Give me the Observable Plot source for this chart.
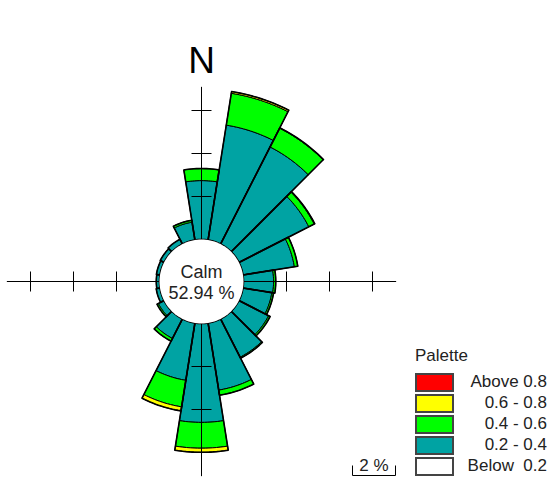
<!DOCTYPE html>
<html><head><meta charset="utf-8">
<script src="https://cdn.jsdelivr.net/npm/d3@7"></script>
<script src="https://cdn.jsdelivr.net/npm/@observablehq/plot@0.6"></script>
<style>
body{margin:0;background:#fff;font-family:"Liberation Sans",Arial,sans-serif;}
#wrap{position:relative;width:550px;height:483px;overflow:hidden;}
#legend{position:absolute;left:415px;top:346px;width:134px;font-size:17px;color:#222;}
#legend .title{height:27px;line-height:20px;}
#legend .row{position:relative;height:21px;}
#legend .sw{position:absolute;left:0;top:0;width:35px;height:15px;border:2px solid #444;}
#legend .lab{position:absolute;right:2px;top:-1px;line-height:20px;white-space:pre;}
</style></head><body><div id="wrap"><div id="chart"></div><div id="legend"></div></div>
<script>
// ---- data (percent of observations per direction sector and wind-speed class) ----
const directions = [0, 18, 36, 54, 72, 90, 108, 126, 144, 162, 180, 198, 216, 234, 252, 270, 288, 306, 324, 342];
const band02to04 = [2.74, 5.41, 5.07, 3.65, 2.42, 1.40, 1.36, 1.55, 2.00, 3.16, 4.60, 2.70, 1.02, 0.30, 0.18, 0.15, 0.17, 0.20, 0.25, 0.84];
const band04to06 = [0.56, 1.50, 0.98, 0.28, 0.16, 0.10, 0.08, 0.08, 0.05, 0.24, 1.20, 1.25, 0.14, 0.07, 0, 0, 0, 0, 0, 0.09];
const band06to08 = [0, 0.08, 0.02, 0.03, 0, 0, 0, 0, 0, 0, 0.19, 0.19, 0, 0, 0, 0, 0, 0, 0, 0];
const bandAbove08 = [0, 0, 0, 0, 0, 0, 0, 0, 0, 0, 0, 0, 0, 0, 0, 0, 0, 0, 0, 0];
const legendLabels = ["Above 0.8", "0.6 - 0.8", "0.4 - 0.6", "0.2 - 0.4", "Below  0.2"];
const legendColors = ["#ff0000", "#ffff00", "#00ff00", "#00a3a3", "#ffffff"];
const calmLabel = "Calm";
const calmPct = 52.94;
const axisTicks = [2, 4, 6];
const scaleBarPct = 2;
const northLabel = "N";
const legendTitle = "Palette";

// ---- layout ----
const W = 550, H = 483;
const cx = 201, cy = 281;       // centre of rose in px
const k = 21.5;                 // px per percent
const R0 = 42 / k;              // calm circle radius (in percent units)
const axisExtent = R0 + 7.1;
const tickHalf = 10 / k;

const bands = [band02to04, band04to06, band06to08, bandAbove08];
const bandColors = ["#00a3a3", "#00ff00", "#ffff00", "#ff0000"];

const polar = (deg, r) => {
  const a = deg * Math.PI / 180;
  return [r * Math.sin(a), r * Math.cos(a)];
};

const sectorWidth = 360 / directions.length;
const polys = [];
const outlines = [];
const N = 14;
directions.forEach((d, i) => {
  let start = 0;
  const a0 = d - sectorWidth / 2, a1 = d + sectorWidth / 2;
  bands.forEach((vals, b) => {
    const v = vals[i];
    if (!(v > 0)) return;
    const end = start + v;
    const pts = [];
    for (let j = 0; j <= N; j++) pts.push(polar(a0 + (a1 - a0) * j / N, R0 + start));
    for (let j = N; j >= 0; j--) pts.push(polar(a0 + (a1 - a0) * j / N, R0 + end));
    pts.push(pts[0]);
    pts.forEach(p => polys.push({id: i + "-" + b, band: b, x: p[0], y: p[1]}));
    start = end;
  });
  const total = start;
  const pts = [];
  for (let j = 0; j <= N; j++) pts.push(polar(a0 + (a1 - a0) * j / N, R0));
  for (let j = N; j >= 0; j--) pts.push(polar(a0 + (a1 - a0) * j / N, R0 + total));
  pts.push(pts[0]);
  pts.forEach(p => outlines.push({id: i, x: p[0], y: p[1]}));
});

const circle = d3.range(0, 361, 3).map(a => { const p = polar(a, R0); return {x: p[0], y: p[1]}; });

const axisLines = [
  {x1: -axisExtent, y1: 0, x2: axisExtent, y2: 0},
  {x1: 0, y1: -axisExtent, x2: 0, y2: axisExtent}
];
const tickLinks = [];
axisTicks.forEach(t => {
  const r = R0 + t;
  tickLinks.push({x1: r, y1: -tickHalf, x2: r, y2: tickHalf});
  tickLinks.push({x1: -r, y1: -tickHalf, x2: -r, y2: tickHalf});
  tickLinks.push({x1: -tickHalf, y1: r, x2: tickHalf, y2: r});
  tickLinks.push({x1: -tickHalf, y1: -r, x2: tickHalf, y2: -r});
});

// scale bar position (px -> data units)
const sbx = (352 - cx) / k, sby = (cy - 475) / k;
const scaleBar = [
  {x1: sbx, y1: sby, x2: sbx + scaleBarPct, y2: sby},
  {x1: sbx, y1: sby, x2: sbx, y2: sby + 10 / k},
  {x1: sbx + scaleBarPct, y1: sby, x2: sbx + scaleBarPct, y2: sby + 10 / k}
];

const font = "Liberation Sans, Arial, sans-serif";

const marks = [];
bands.forEach((vals, b) => {
  marks.push(Plot.line(polys.filter(p => p.band === b), {
    x: "x", y: "y", z: "id", fill: bandColors[b], stroke: "#000", strokeWidth: 1, curve: "linear", strokeLinejoin: "miter"
  }));
});
marks.push(Plot.line(outlines, {x: "x", y: "y", z: "id", fill: "none", stroke: "#000", strokeWidth: 1.6, curve: "linear"}));
marks.push(Plot.link(axisLines, {x1: "x1", y1: "y1", x2: "x2", y2: "y2", stroke: "#000", strokeWidth: 1}));
marks.push(Plot.link(tickLinks, {x1: "x1", y1: "y1", x2: "x2", y2: "y2", stroke: "#000", strokeWidth: 1}));
marks.push(Plot.line(circle, {x: "x", y: "y", fill: "#fff", stroke: "none", curve: "linear"}));
marks.push(Plot.text([calmLabel + "\n" + calmPct.toFixed(2) + " %"], {
  x: 0, y: 0, text: d => d, fontSize: 18, fontFamily: font, fill: "#222", lineHeight: 1.17, lineAnchor: "middle"
}));
marks.push(Plot.text([northLabel], {
  x: 0, y: (cy - 72) / k, text: d => d, fontSize: 37, fontFamily: font, fill: "#000", lineAnchor: "bottom"
}));
marks.push(Plot.link(scaleBar, {x1: "x1", y1: "y1", x2: "x2", y2: "y2", stroke: "#000", strokeWidth: 1}));
marks.push(Plot.text([scaleBarPct + " %"], {
  x: sbx + scaleBarPct / 2, y: sby + 5 / k, text: d => d, fontSize: 17, fontFamily: font, fill: "#222", lineAnchor: "bottom"
}));

const chart = Plot.plot({
  width: W, height: H, margin: 0,
  x: {domain: [-cx / k, (W - cx) / k], axis: null},
  y: {domain: [-(H - cy) / k, cy / k], axis: null},
  style: {background: "#fff", overflow: "visible"},
  marks
});
document.getElementById("chart").appendChild(chart);

const lg = document.getElementById("legend");
const t = document.createElement("div"); t.className = "title"; t.textContent = legendTitle; lg.appendChild(t);
legendLabels.forEach((lab, i) => {
  const row = document.createElement("div"); row.className = "row";
  const sw = document.createElement("div"); sw.className = "sw"; sw.style.background = legendColors[i];
  const l = document.createElement("div"); l.className = "lab"; l.textContent = lab;
  row.appendChild(sw); row.appendChild(l); lg.appendChild(row);
});
</script></body></html>
